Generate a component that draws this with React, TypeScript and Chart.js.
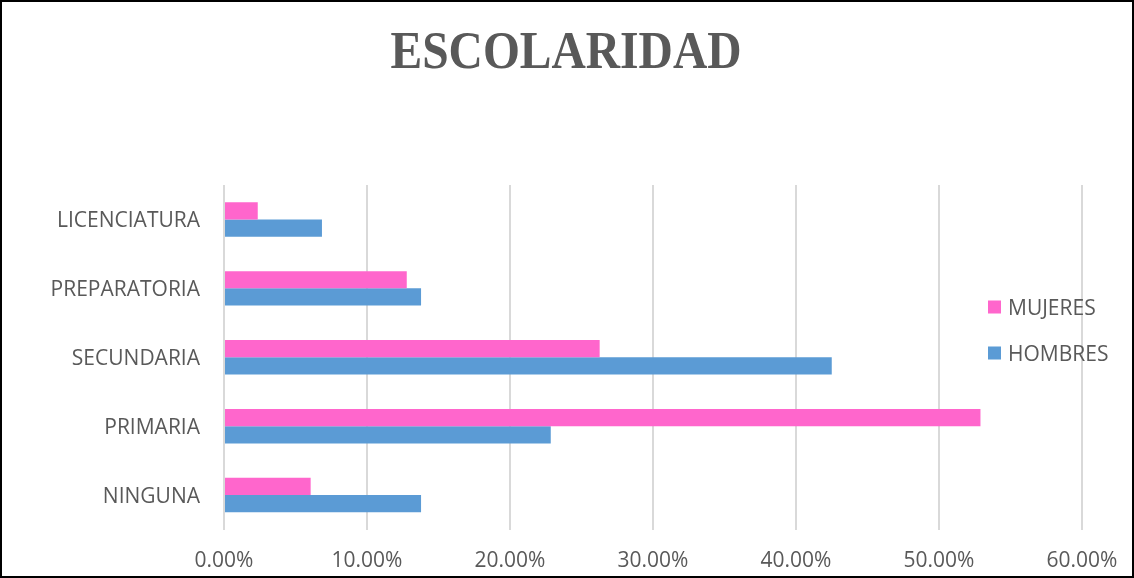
import React, { useEffect, useRef } from "react";
import { Chart, registerables } from "chart.js";

Chart.register(...registerables);

const TITLE = "ESCOLARIDAD";
const categories = ["LICENCIATURA", "PREPARATORIA", "SECUNDARIA", "PRIMARIA", "NINGUNA"];
const mujeres = [2.36, 12.78, 26.27, 52.9, 6.06];
const hombres = [6.85, 13.78, 42.5, 22.85, 13.78];
const seriesNames = ["MUJERES", "HOMBRES"];
const seriesColors = ["#FF66CC", "#5B9BD5"];
const xMax = 60;
const xStep = 10;

const TEXT_COLOR = "#595959";
const SANS = "'Open Sans', 'Liberation Sans', sans-serif";

const titlePlugin = {
  id: "condensedTitle",
  afterDraw(chart: any) {
    const ctx = chart.ctx;
    ctx.save();
    ctx.font = "bold 53px 'Liberation Serif', serif";
    ctx.fillStyle = TEXT_COLOR;
    ctx.textAlign = "center";
    ctx.textBaseline = "alphabetic";
    ctx.fillText(TITLE, chart.width / 2 - 1, 66, 351);
    ctx.restore();
  },
};

const legendPlugin = {
  id: "overlayLegend",
  afterDraw(chart: any) {
    const ctx = chart.ctx;
    const area = chart.chartArea;
    const x0 = area.right - 94;
    const y0 = area.top + 122;
    const gap = 46;
    ctx.save();
    ctx.font = "21px " + SANS;
    ctx.textBaseline = "middle";
    ctx.textAlign = "left";
    chart.data.datasets.forEach((ds: any, i: number) => {
      const cy = y0 + i * gap;
      ctx.fillStyle = ds.backgroundColor;
      ctx.fillRect(x0, cy - 6.5, 13, 13);
      ctx.fillStyle = TEXT_COLOR;
      ctx.fillText(ds.label, x0 + 20, cy + 2);
    });
    ctx.restore();
  },
};

export default function App() {
  const canvasRef = useRef<HTMLCanvasElement | null>(null);

  useEffect(() => {
    document.body.style.margin = "0";
    const canvas = canvasRef.current;
    if (!canvas) return;
    const chart = new Chart(canvas, {
      type: "bar",
      data: {
        labels: categories,
        datasets: [
          {
            label: seriesNames[0],
            data: mujeres,
            backgroundColor: seriesColors[0],
            borderWidth: 0,
            barPercentage: 1,
            categoryPercentage: 0.5,
          },
          {
            label: seriesNames[1],
            data: hombres,
            backgroundColor: seriesColors[1],
            borderWidth: 0,
            barPercentage: 1,
            categoryPercentage: 0.5,
          },
        ],
      },
      options: {
        indexAxis: "y",
        animation: false,
        responsive: false,
        maintainAspectRatio: false,
        layout: { padding: { top: 183, right: 50, left: 0, bottom: 0 } },
        plugins: {
          legend: { display: false },
          title: { display: false },
          tooltip: { enabled: false },
        },
        scales: {
          x: {
            min: 0,
            max: xMax,
            grid: { color: "#D9D9D9", lineWidth: 2, drawTicks: false },
            border: { display: false },
            ticks: {
              stepSize: xStep,
              padding: 19,
              color: TEXT_COLOR,
              font: { family: SANS, size: 21 },
              callback: (v: any) => Number(v).toFixed(2) + "%",
            },
            afterFit: (s: any) => {
              s.height = 46.5;
              s.paddingLeft = 0;
              s.paddingRight = 0;
            },
          },
          y: {
            grid: { display: false, drawTicks: false },
            border: { display: false },
            ticks: {
              padding: 24,
              labelOffset: 2,
              color: TEXT_COLOR,
              font: { family: SANS, size: 21 },
            },
            afterFit: (s: any) => {
              s.width = 222;
              s.paddingTop = 0;
              s.paddingBottom = 0;
            },
          },
        },
      },
      plugins: [titlePlugin, legendPlugin],
    });
    return () => chart.destroy();
  }, []);

  return (
    <div
      style={{
        width: 1134,
        height: 578,
        border: "2px solid #000",
        boxSizing: "border-box",
        background: "#fff",
        overflow: "hidden",
      }}
    >
      <canvas ref={canvasRef} width={1130} height={574} style={{ display: "block" }} />
    </div>
  );
}
